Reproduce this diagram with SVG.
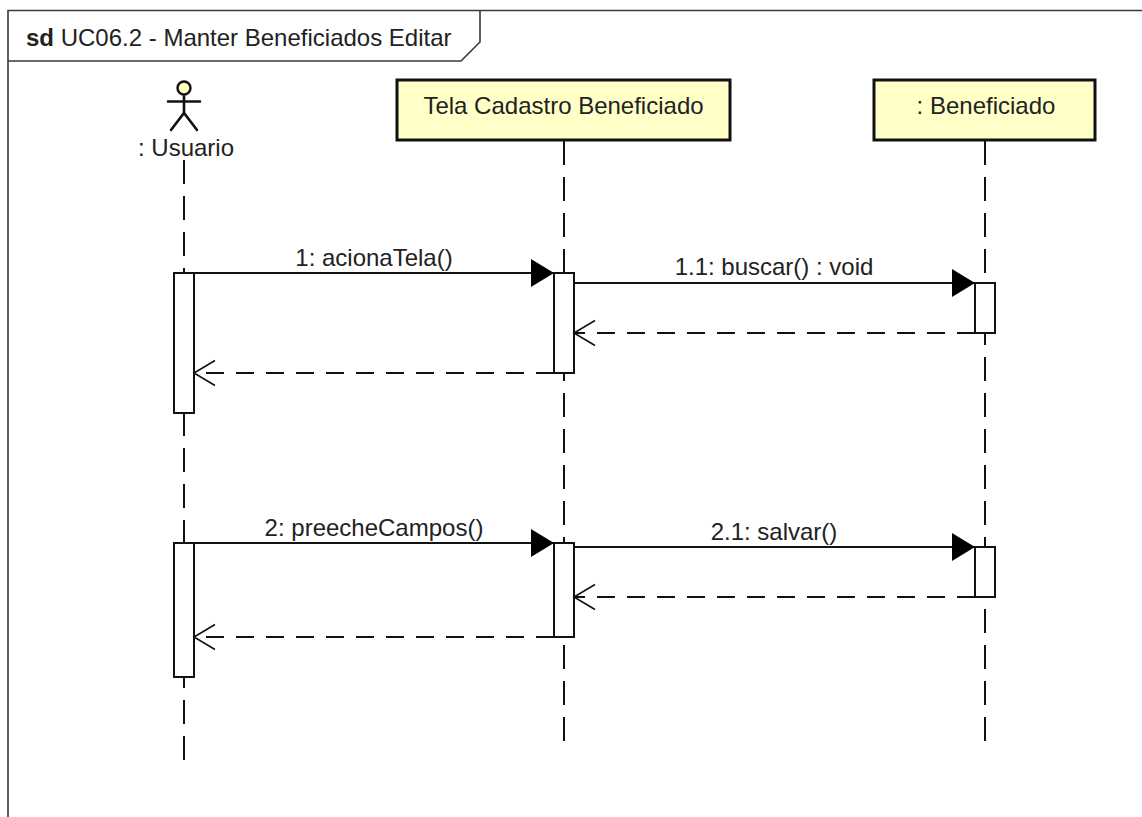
<svg xmlns="http://www.w3.org/2000/svg" width="1142" height="817" viewBox="0 0 1142 817">
  <style>
    .txt { font-family: "Liberation Sans", Arial, sans-serif; font-size: 24px; fill: #222; }
    .frame { fill: none; stroke: #3a3a3a; stroke-width: 1.6; }
    .box { fill: #FFFFC8; stroke: #111; stroke-width: 3; }
    .life { fill: none; stroke: #111; stroke-width: 2; stroke-dasharray: 24 12; }
    .bar { fill: #fff; stroke: #111; stroke-width: 2; }
    .msg { fill: none; stroke: #111; stroke-width: 2; marker-end: url(#filled); }
    .ret { fill: none; stroke: #111; stroke-width: 2; stroke-dasharray: 18 12; marker-end: url(#open); }
    .actor { fill: none; stroke: #111; stroke-width: 2.6; stroke-linecap: round; }
  </style>
  <defs>
    <marker id="filled" markerUnits="userSpaceOnUse" markerWidth="24" markerHeight="28" refX="23" refY="14" orient="auto" overflow="visible">
      <path d="M0,0 L23,14 L0,28 Z" fill="#000" stroke="none"/>
    </marker>
    <marker id="open" markerUnits="userSpaceOnUse" markerWidth="22" markerHeight="26" refX="21" refY="12.5" orient="auto" overflow="visible">
      <path d="M0,0 L21,12.5 L0,25" fill="none" stroke="#111" stroke-width="1.6"/>
    </marker>
  </defs>
  <rect x="0" y="0" width="1142" height="817" fill="#fff"/>

  <g id="frame">
    <path class="frame" d="M8,830 V10.5 H1150"/>
    <path class="frame" d="M8,61 H461 L480,42 V10.5"/>
    <text class="txt" x="26" y="46"><tspan font-weight="bold">sd</tspan> UC06.2 - Manter Beneficiados Editar</text>
  </g>

  <g id="node-usuario">
    <line class="life" x1="184" y1="160" x2="184" y2="762"/>
    <circle cx="184" cy="88" r="6.5" fill="#FFFFC0" stroke="#111" stroke-width="2.4"/>
    <path class="actor" d="M184,95 V113 M168,101.5 H200 M171,130 L184,113 L197,130"/>
    <text class="txt" x="186" y="156" text-anchor="middle">: Usuario</text>
    <rect class="bar" x="174" y="273" width="20" height="140"/>
    <rect class="bar" x="174" y="543" width="20" height="134"/>
  </g>

  <g id="node-tela">
    <line class="life" x1="564" y1="141" x2="564" y2="741"/>
    <rect class="box" x="397" y="80" width="333" height="60"/>
    <text class="txt" x="563.5" y="114" text-anchor="middle">Tela Cadastro Beneficiado</text>
    <rect class="bar" x="554" y="273" width="20" height="100"/>
    <rect class="bar" x="554" y="543" width="20" height="94"/>
  </g>

  <g id="node-beneficiado">
    <line class="life" x1="985" y1="141" x2="985" y2="741"/>
    <rect class="box" x="874" y="80" width="221" height="60"/>
    <text class="txt" x="986" y="114" text-anchor="middle">: Beneficiado</text>
    <rect class="bar" x="975" y="283" width="20" height="50"/>
    <rect class="bar" x="975" y="547" width="20" height="50"/>
  </g>

  <g id="connectors">
    <line class="msg" x1="194" y1="273" x2="554" y2="273"/>
    <text class="txt" x="374" y="266" text-anchor="middle">1: acionaTela()</text>
    <line class="msg" x1="574" y1="283" x2="975" y2="283"/>
    <text class="txt" x="774" y="275" text-anchor="middle">1.1: buscar() : void</text>
    <line class="ret" x1="975" y1="333" x2="574" y2="333"/>
    <line class="ret" x1="554" y1="373" x2="194" y2="373"/>

    <line class="msg" x1="194" y1="543" x2="554" y2="543"/>
    <text class="txt" x="374" y="536" text-anchor="middle">2: preecheCampos()</text>
    <line class="msg" x1="574" y1="547" x2="975" y2="547"/>
    <text class="txt" x="774" y="540" text-anchor="middle">2.1: salvar()</text>
    <line class="ret" x1="975" y1="597" x2="574" y2="597"/>
    <line class="ret" x1="554" y1="637" x2="194" y2="637"/>
  </g>
</svg>
